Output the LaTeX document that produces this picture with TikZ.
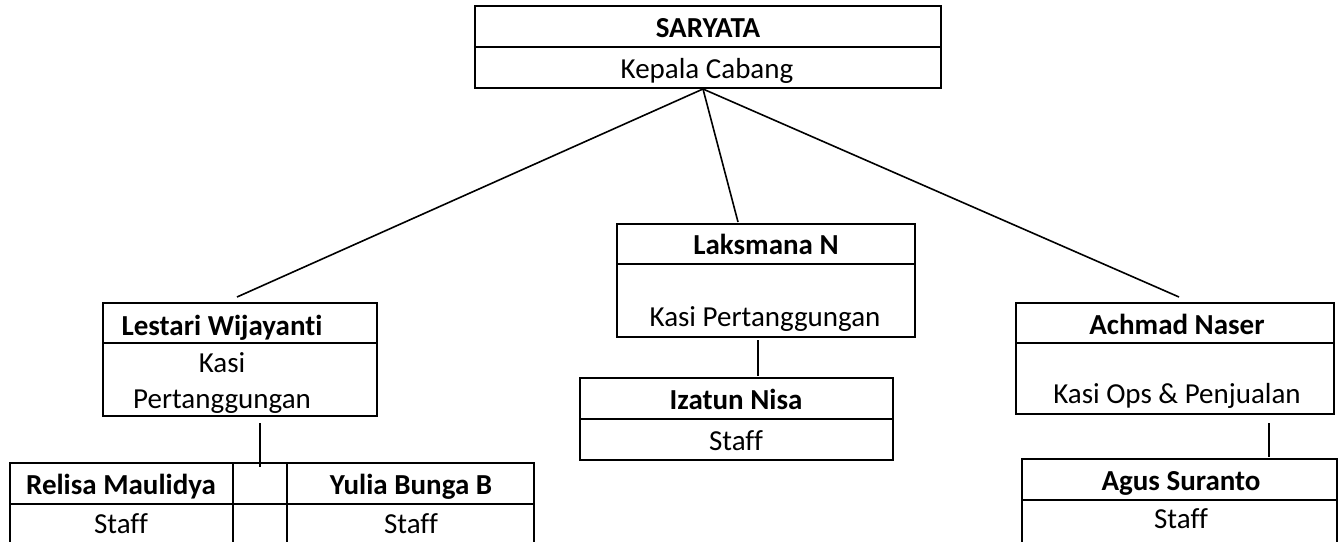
\documentclass[tikz,border=0pt]{standalone}
\usepackage{fontspec}
\setmainfont[Ligatures=NoCommon]{Carlito}
\begin{document}
\begin{tikzpicture}[x=1pt,y=-1pt,
  box/.style={draw, line width=2.5pt, rectangle, inner sep=0pt},
  divline/.style={line width=2.5pt},
  conn/.style={line width=1.6pt},
  txt/.style={anchor=base, inner sep=0pt, font=\fontsize{29}{35}\selectfont},
  btxt/.style={anchor=base, inner sep=0pt, font=\fontsize{29}{35}\selectfont\bfseries}]
\useasboundingbox (0,0) rectangle (1343,541);

% boxes
\node[box, minimum width=466pt, minimum height=82pt] (top) at (708,47) {};
\draw[divline] (top.west) -- (top.east);
\node[btxt] (topname) at (708,37) {SARYATA};
\node[txt] (toprole) at (707,78) {Kepala Cabang};

\node[box, minimum width=274pt, minimum height=113pt] (lest) at (240,359.5) {};
\draw[divline] (103,343) -- (377,343);
\node[btxt] (lestname) at (222,335) {Lestari Wijayanti};
\node[txt] (lestrole1) at (222,372) {Kasi};
\node[txt] (lestrole2) at (222,408) {Pertanggungan};

\node[box, minimum width=298pt, minimum height=113pt] (laks) at (766,280.5) {};
\draw[divline] (617,264) -- (915,264);
\node[btxt] (laksname) at (766,254) {Laksmana N};
\node[txt] (laksrole) at (765,326) {Kasi Pertanggungan};

\node[box, minimum width=318pt, minimum height=111pt] (achm) at (1175,358.5) {};
\draw[divline] (1016,343) -- (1334,343);
\node[btxt] (achmname) at (1177,334) {Achmad Naser};
\node[txt] (achmrole) at (1177,403) {Kasi Ops \& Penjualan};

\node[box, minimum width=313pt, minimum height=82pt] (izat) at (736.5,419) {};
\draw[divline] (580,419) -- (893,419);
\node[btxt] (izatname) at (736,409) {Izatun Nisa};
\node[txt] (izatrole) at (736,450) {Staff};

\node[box, minimum width=524pt, minimum height=86pt] (tab) at (272,506) {};
\draw[divline] (10,504) -- (534,504);
\draw[divline] (233,463) -- (233,549);
\draw[divline] (287,463) -- (287,549);
\node[btxt] (relname) at (121,494) {Relisa Maulidya};
\node[txt] (relrole) at (121,533) {Staff};
\node[btxt] (yulname) at (411,494) {Yulia Bunga B};
\node[txt] (yulrole) at (411,533) {Staff};

\node[box, minimum width=315pt, minimum height=88pt] (agus) at (1179.5,503) {};
\draw[divline] (1022,500) -- (1337,500);
\node[btxt] (agusname) at (1181,490) {Agus Suranto};
\node[txt] (agusrole) at (1181,528) {Staff};

% connector end points
\coordinate (apex) at (703,89);
\coordinate (lestin) at (237,297);
\coordinate (laksin) at (738,222);
\coordinate (achmin) at (1179,297);
\coordinate (lestout) at (260,423);
\coordinate (tabin) at (260,467);
\coordinate (laksout) at (758,340);
\coordinate (izatin) at (758,376);
\coordinate (achmout) at (1269,423);
\coordinate (agusin) at (1269,457);

\draw[conn] (apex) -- (lestin);
\draw[conn] (apex) -- (laksin);
\draw[conn] (apex) -- (achmin);
\draw[conn] (lestout) -- (tabin);
\draw[conn] (laksout) -- (izatin);
\draw[conn] (achmout) -- (agusin);
\end{tikzpicture}
\end{document}
